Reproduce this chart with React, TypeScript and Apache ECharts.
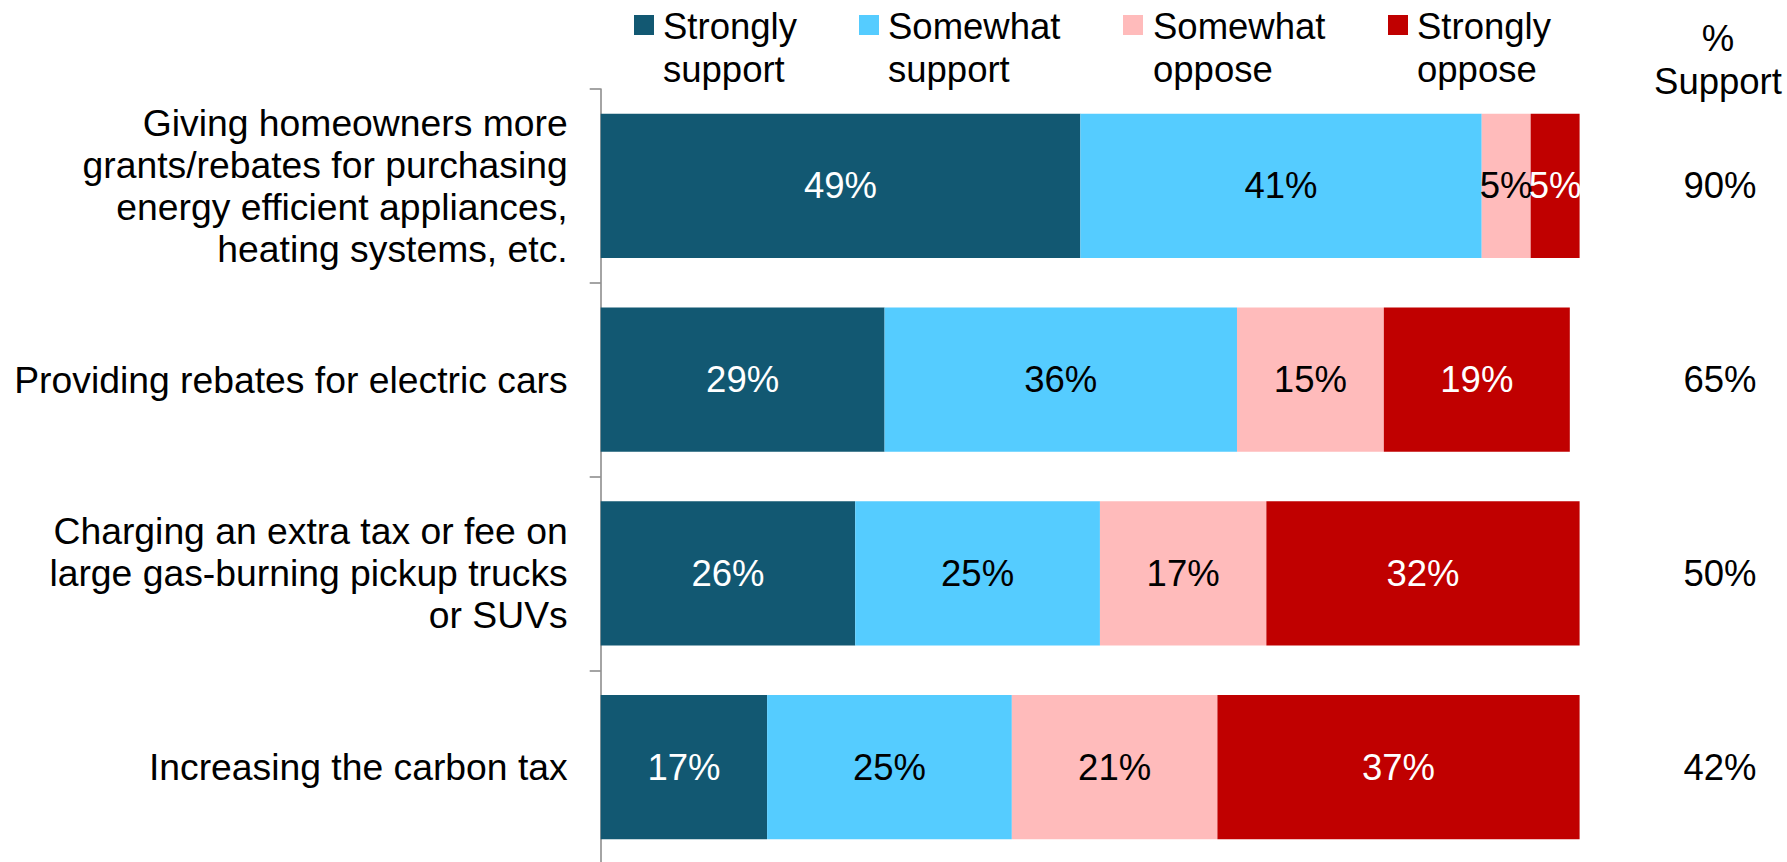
import React, { useEffect, useRef } from "react";
import * as echarts from "echarts";

const categories = [
  "Giving homeowners more\ngrants/rebates for purchasing\nenergy efficient appliances,\nheating systems, etc.",
  "Providing rebates for electric cars",
  "Charging an extra tax or fee on\nlarge gas-burning pickup trucks\nor SUVs",
  "Increasing the carbon tax",
];
const seriesNames = ["Strongly support", "Somewhat support", "Somewhat oppose", "Strongly oppose"];
const legendLabels = ["Strongly\nsupport", "Somewhat\nsupport", "Somewhat\noppose", "Strongly\noppose"];
const stronglySupport = [49, 29, 26, 17];
const somewhatSupport = [41, 36, 25, 25];
const somewhatOppose = [5, 15, 17, 21];
const stronglyOppose = [5, 19, 32, 37];
const supportTotals = ["90%", "65%", "50%", "42%"];
const supportHeader = "%\nSupport";

const colors = ["#125872", "#55CCFF", "#FFBBBB", "#C00000"];
const labelColors = ["#ffffff", "#000000", "#000000", "#ffffff"];
const FONT = "'Liberation Sans', Arial, sans-serif";

export default function App() {
  const ref = useRef<HTMLDivElement>(null);
  useEffect(() => {
    if (!ref.current) return;
    const chart = echarts.init(ref.current, undefined, { renderer: "svg" });
    const values = [stronglySupport, somewhatSupport, somewhatOppose, stronglyOppose];
    const legendSquareX = [634, 859, 1123, 1388];
    const legendTextX = [663, 888, 1153, 1417];
    const graphics: any[] = [];
    seriesNames.forEach((n, i) => {
      graphics.push({
        type: "rect",
        shape: { x: legendSquareX[i], y: 15, width: 20, height: 20 },
        style: { fill: colors[i] },
      });
      graphics.push({
        type: "text",
        x: legendTextX[i],
        y: 47.5,
        style: {
          text: legendLabels[i],
          font: `36.5px ${FONT}`,
          fill: "#000",
          textAlign: "left",
          textVerticalAlign: "middle",
          lineHeight: 43,
        },
      });
    });
    graphics.push({
      type: "text",
      x: 1718,
      y: 59.5,
      style: {
        text: supportHeader,
        font: `36.5px ${FONT}`,
        fill: "#000",
        textAlign: "center",
        textVerticalAlign: "middle",
        lineHeight: 43,
      },
    });

    chart.setOption({
      animation: false,
      backgroundColor: "#ffffff",
      grid: {
        left: 600.7,
        right: 207.4,
        top: 89,
        bottom: -2,
        containLabel: false,
        outerBoundsMode: "none",
      },
      xAxis: {
        type: "value",
        min: 0,
        max: 100,
        show: false,
      },
      yAxis: [
        {
          type: "category",
          data: categories,
          inverse: true,
          axisLine: { show: true, lineStyle: { color: "#868686", width: 1.5 } },
          axisTick: { show: true, length: 11, lineStyle: { color: "#868686", width: 1.5 } },
          axisLabel: {
            margin: 33,
            fontSize: 37.3,
            fontFamily: FONT,
            color: "#000",
            lineHeight: 42,
            align: "right",
          },
          splitLine: { show: false },
        },
        {
          type: "category",
          data: supportTotals,
          inverse: true,
          position: "right",
          axisLine: { show: false },
          axisTick: { show: false },
          axisLabel: {
            margin: 140.4,
            fontSize: 36.5,
            fontFamily: FONT,
            color: "#000",
            align: "center",
          },
          splitLine: { show: false },
        },
      ],
      series: seriesNames.map((name, i) => ({
        name,
        type: "bar",
        stack: "total",
        yAxisIndex: 0,
        data: values[i],
        barCategoryGap: "25.5%",
        itemStyle: { color: colors[i] },
        label: {
          show: true,
          position: "inside",
          formatter: "{c}%",
          fontSize: 36.5,
          fontFamily: FONT,
          color: labelColors[i],
        },
      })),
      graphic: graphics,
    });
    return () => chart.dispose();
  }, []);
  return (
    <div
      ref={ref}
      style={{ position: "fixed", left: 0, top: 0, width: 1787, height: 862, background: "#fff" }}
    />
  );
}
